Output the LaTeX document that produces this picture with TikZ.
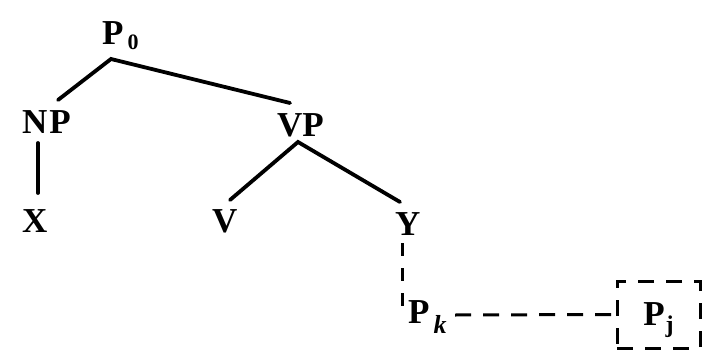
\documentclass[tikz,border=0pt]{standalone}
\usepackage{fontspec}
\setmainfont{Liberation Serif}
\begin{document}
\begin{tikzpicture}[x=1pt,y=-1pt,
  lab/.style={inner sep=0pt, anchor=base west, font=\fontsize{35}{40}\selectfont\bfseries},
  branch/.style={line width=3.8pt, line cap=round},
  dashline/.style={line width=3pt, dash pattern=on 16pt off 12pt},
  vdash/.style={line width=3pt, dash pattern=on 13pt off 12pt}]
\useasboundingbox (0,0) rectangle (706,350);
% labels
\node[lab] (p0) at (102,45) {P\kern4pt\raisebox{-5pt}{\fontsize{22}{22}\selectfont 0}};
\node[lab] (np) at (22,133) {N\kern2pt P};
\node[lab] (vp) at (277,136) {VP};
\node[lab] (x) at (22,232) {X};
\node[lab] (v) at (212,232) {V};
\node[lab] (y) at (395,235) {Y};
\node[lab] (pk) at (408,323) {P\kern4pt\raisebox{-10pt}{\fontsize{26}{26}\selectfont\itshape k}};
\node[draw, dashline, inner sep=0pt, minimum width=83pt, minimum height=67pt,
      text height=22pt, text depth=0pt, font=\fontsize{35}{40}\selectfont\bfseries]
      (pj) at (658.5,314.5) {P\kern1pt\raisebox{-7pt}{\fontsize{24}{24}\selectfont j}};
% branch points
\coordinate (p0b) at ([shift={(9pt,-14pt)}]p0.base west);
\coordinate (vpb) at ([shift={(21pt,-6pt)}]vp.base west);
% tree
\draw[branch] ([shift={(36pt,33pt)}]np.base west) -- (p0b) -- ([shift={(13pt,33pt)}]vp.base west);
\draw[branch] ([shift={(18pt,32pt)}]v.base west) -- (vpb) -- ([shift={(5pt,33pt)}]y.base west);
\draw[branch] ([shift={(16pt,-10pt)}]np.base west) -- ([shift={(16pt,39pt)}]x.base west);
% dashed links
\draw[vdash] ([shift={(7pt,-8pt)}]y.base west) -- ([shift={(-6pt,13pt)}]pk.base west);
\draw[dashline] ([shift={(47pt,8pt)}]pk.base west) -- (pj.west);
\end{tikzpicture}
\end{document}
